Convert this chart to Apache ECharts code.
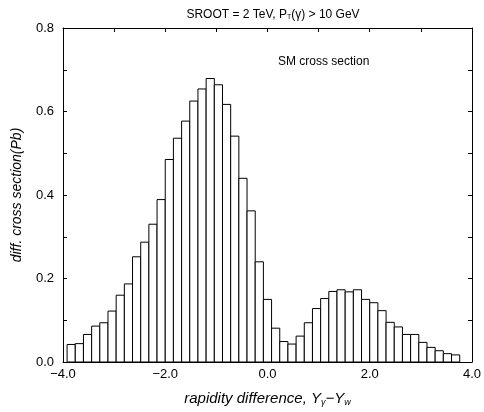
<!DOCTYPE html>
<html>
<head>
<meta charset="utf-8">
<script src="https://cdn.jsdelivr.net/npm/echarts@6/dist/echarts.min.js"></script>
<style>html,body{margin:0;padding:0;background:#fff}#c{width:484px;height:412px}</style>
</head>
<body>
<div id="c"></div>
<script>
// Bin centers (rapidity difference) and bin width
const binCenters = [-3.84,-3.68,-3.52,-3.36,-3.20,-3.04,-2.88,-2.72,-2.56,-2.40,-2.24,-2.08,
  -1.92,-1.76,-1.60,-1.44,-1.28,-1.12,-0.96,-0.80,-0.64,-0.48,-0.32,-0.16,
  0.00,0.16,0.32,0.48,0.64,0.80,0.96,1.12,1.28,1.44,1.60,1.76,
  1.92,2.08,2.24,2.40,2.56,2.72,2.88,3.04,3.20,3.36,3.52,3.68];
const binWidth = 0.16;
// Differential cross section (Pb)
const crossSection = [0.042,0.044,0.066,0.086,0.094,0.122,0.160,0.187,0.252,0.287,0.330,0.389,
  0.485,0.536,0.577,0.625,0.654,0.679,0.664,0.617,0.541,0.440,0.362,0.240,
  0.150,0.081,0.049,0.043,0.062,0.094,0.128,0.152,0.169,0.173,0.168,0.173,
  0.150,0.142,0.123,0.095,0.084,0.066,0.066,0.047,0.035,0.027,0.020,0.017];
const xTicks = [-4.0, -2.0, 0.0, 2.0, 4.0];
const yTicks = [0.0, 0.2, 0.4, 0.6, 0.8];

const chart = echarts.init(document.getElementById('c'));
const fontFam = '"Liberation Sans", Arial, sans-serif';
const fmtNum = v => (v < 0 ? '\u2212' : '') + Math.abs(v).toFixed(1);
const axisLine = {show: true, onZero: false, lineStyle: {color: '#000', width: 1}};
const tick = {show: true, inside: true, length: 4, lineStyle: {color: '#000', width: 1}};

chart.setOption({
  animation: false,
  backgroundColor: '#fff',
  title: {
    text: '{a|SROOT = 2 TeV, P}{s|T}{a|(\u03b3) > 10 GeV}',
    left: 268, top: 3, textAlign: 'center',
    textStyle: {fontWeight: 'normal', rich: {
      a: {fontFamily: fontFam, fontSize: 12, fontWeight: 'normal', color: '#000'},
      s: {fontFamily: fontFam, fontSize: 7, fontWeight: 'normal', color: '#000', padding: [6, 0, 0, 0]}
    }}
  },
  graphic: [{
    type: 'text', left: 278, top: 56,
    style: {text: 'SM cross section', font: '12px ' + fontFam, fill: '#000'}
  }],
  grid: {left: 63, right: 9, top: 28, bottom: 45},
  xAxis: [{
    type: 'value', min: -4, max: 4, interval: 1, position: 'bottom',
    axisLine: axisLine, axisTick: tick, splitLine: {show: false},
    axisLabel: {
      fontFamily: fontFam, fontSize: 13, color: '#000', margin: 6,
      formatter: v => xTicks.some(t => Math.abs(t - v) < 1e-6) ? fmtNum(v) : ''
    },
    name: '{t|rapidity difference, Y}{s|\u03b3}{t|\u2212Y}{s|w}',
    nameLocation: 'middle', nameGap: 28,
    nameTextStyle: {rich: {
      t: {fontFamily: fontFam, fontSize: 15, fontStyle: 'italic', color: '#000'},
      s: {fontFamily: fontFam, fontSize: 9, fontStyle: 'italic', color: '#000', padding: [8, 0, 0, 0]}
    }}
  }, {
    type: 'value', min: -4, max: 4, interval: 1, position: 'top',
    axisLine: axisLine, axisTick: tick, axisLabel: {show: false}, splitLine: {show: false}
  }],
  yAxis: [{
    type: 'value', min: 0, max: 0.8, interval: 0.1, position: 'left',
    axisLine: axisLine, axisTick: tick, splitLine: {show: false},
    axisLabel: {
      fontFamily: fontFam, fontSize: 13, color: '#000', margin: 9,
      formatter: v => yTicks.some(t => Math.abs(t - v) < 1e-6) ? v.toFixed(1) : ''
    },
    name: 'diff. cross section(Pb)', nameLocation: 'middle', nameGap: 39,
    nameTextStyle: {fontFamily: fontFam, fontSize: 14, fontStyle: 'italic', color: '#000'}
  }, {
    type: 'value', min: 0, max: 0.8, interval: 0.1, position: 'right',
    axisLine: axisLine, axisTick: tick, axisLabel: {show: false}, splitLine: {show: false}
  }],
  series: [{
    type: 'custom',
    xAxisIndex: 0, yAxisIndex: 0,
    data: binCenters.map((c, i) => [c, crossSection[i]]),
    renderItem: function (params, api) {
      const c = api.value(0), h = api.value(1);
      const p0 = api.coord([c - binWidth / 2, h]);
      const p1 = api.coord([c + binWidth / 2, 0]);
      return {
        type: 'rect',
        shape: {x: p0[0], y: p0[1], width: p1[0] - p0[0], height: p1[1] - p0[1]},
        style: {fill: '#fff', stroke: '#000', lineWidth: 1}
      };
    }
  }]
});
</script>
</body>
</html>
